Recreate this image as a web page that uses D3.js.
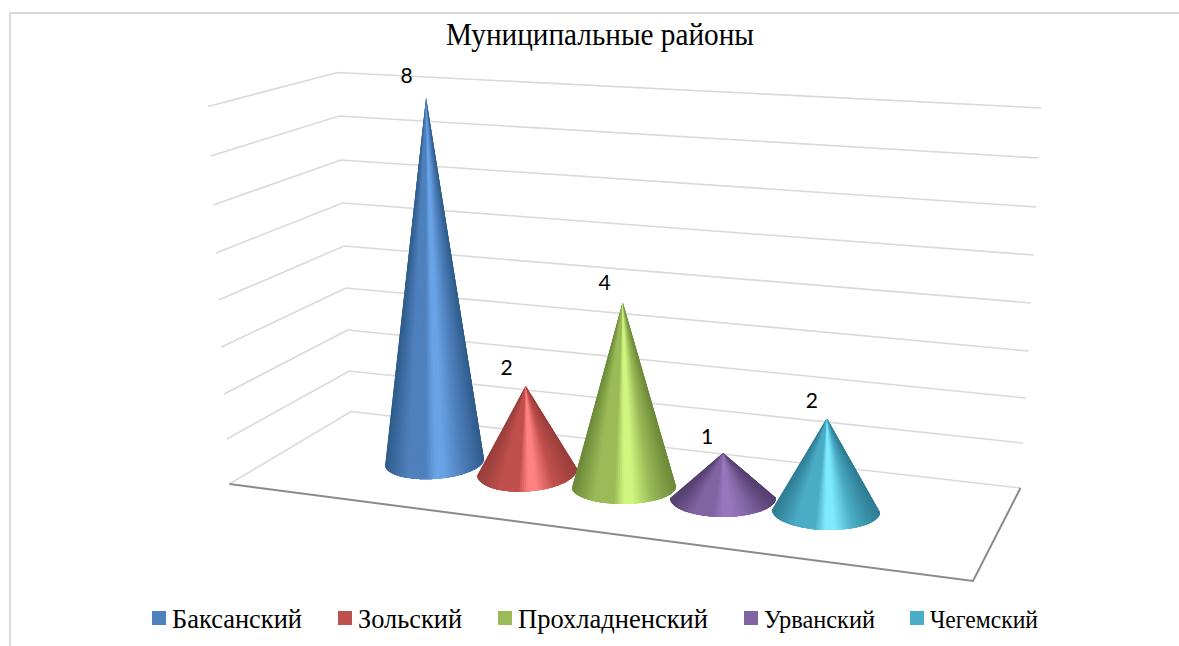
<!DOCTYPE html>
<html lang="ru">
<head>
<meta charset="utf-8">
<script src="https://cdn.jsdelivr.net/npm/d3@7/dist/d3.min.js"></script>
<style>
html,body{margin:0;padding:0;background:#fff;overflow:hidden}
svg{display:block}
</style>
</head>
<body>
<div id="chart"></div>
<script>
const titleText = "Муниципальные районы";
const categories = ["Баксанский", "Зольский", "Прохладненский", "Урванский", "Чегемский"];
const values = [8, 2, 4, 1, 2];
const baseColors = ["#4f81bd", "#c0504d", "#9bbb59", "#8064a2", "#4bacc6"];
const lightColors = ["#69a3e6", "#ff8282", "#cff77f", "#9a76be", "#7eeaff"];
const darkColors = ["#2f5c8c", "#9a3f3c", "#6c8a38", "#55406f", "#2f7d94"];
const gridLevels = [0, 1, 2, 3, 4, 5, 6, 7, 8];

const W = 1179, H = 646;
const svg = d3.select("#chart").append("svg").attr("width", W).attr("height", H);

// chart frame
svg.append("path").attr("d", `M10,${H}V13H${W}`).attr("fill", "none").attr("stroke", "#d9d9d9").attr("stroke-width", 2);

// projected axes: three vertical edges of the 3D box
const leftX = d3.scaleLinear().domain([0, 8]).range([229.5, 208]);
const leftY = d3.scaleLinear().domain(gridLevels).range([484, 439, 394, 347, 300, 253, 205, 156, 106.5]);
const backX = d3.scaleLinear().domain([0, 8]).range([351, 337.5]);
const backY = d3.scaleLinear().domain(gridLevels).range([411.5, 371, 330, 288, 246, 203, 160, 116, 72.5]);
const rightX = d3.scaleLinear().domain([0, 8]).range([1020.5, 1041.5]);
const rightY = d3.scaleLinear().domain(gridLevels).range([488, 443, 398, 351, 303, 255, 207, 158, 108]);

svg.append("g").selectAll("path").data(gridLevels).join("path")
  .attr("d", v => d3.line()([[leftX(v), leftY(v)], [backX(v), backY(v)], [rightX(v), rightY(v)]]))
  .attr("fill", "none").attr("stroke", "#d9d9d9").attr("stroke-width", 1.6);

// floor front edges
const frontRight = [973, 581];
svg.append("path")
  .attr("d", d3.line()([[leftX(0), leftY(0)], frontRight, [rightX(0), rightY(0)]]))
  .attr("fill", "none").attr("stroke", "#8a8a8a").attr("stroke-width", 2);

// cones
const idx = categories.map((_, i) => i);
const cx = d3.scaleLinear().domain(idx).range([434.5, 527, 624, 723, 826]);
const cy = d3.scaleLinear().domain(idx).range([462, 472, 487, 498, 511]);
const rx = d3.scaleLinear().domain(idx).range([49.5, 50, 52, 53, 54]);
const ry = d3.scaleLinear().domain(idx).range([17, 19.5, 17, 19, 19]);
const tilt = d3.scaleLinear().domain(idx).range([-4, -4, -0.5, 0, 1.6]);
const height = d3.scaleLinear().domain([0, 8]).range([0, 364]);
const heightFix = [1, 0.945, 1.015, 0.99, 1.02];
const tipPos = i => {
  const h = height(values[i]) * heightFix[i];
  return [cx(i) + (cx(i) - 710) * h * 8.4e-5, cy(i) - h];
};

const cones = svg.append("g");
const SLICES = 70, OVERLAP = 3;
idx.forEach(i => {
  const a = rx(i), b = ry(i), t = tilt(i) * Math.PI / 180;
  const tip = tipPos(i);
  const shade = d3.scaleLinear()
    .domain([0, 0.22, 0.4, 0.5, 0.58, 0.76, 1])
    .range([darkColors[i], baseColors[i], baseColors[i], lightColors[i], lightColors[i], baseColors[i], darkColors[i]])
    .interpolate(d3.interpolateRgb);
  const rim = th => {
    const ex = a * Math.cos(th), ey = b * Math.sin(th);
    return [cx(i) + ex * Math.cos(t) - ey * Math.sin(t), cy(i) + ex * Math.sin(t) + ey * Math.cos(t)];
  };
  const angle = k => Math.PI * (1 - k / SLICES);
  const g = cones.append("g");
  // painted left to right, each slice overlapping the next so no seam shows
  g.selectAll("path").data(d3.range(SLICES)).join("path")
    .attr("d", k => {
      const pts = d3.range(k, Math.min(k + OVERLAP + 1, SLICES) + 1).map(j => rim(angle(j)));
      return d3.line()([tip, ...pts]) + "Z";
    })
    .attr("fill", k => shade((1 + Math.cos(angle(k + 0.5))) / 2));
});

// value labels: sit up-left of each cone tip
const labels = svg.append("g").attr("font-family", "Lato,'Noto Sans',sans-serif")
  .attr("font-size", 21).attr("fill", "#000").attr("text-anchor", "middle");
const labelDx = [-19.5, -19, -18, -16, -15];
const labelDy = [15, 11, 12, 9, 10];
idx.forEach(i => {
  const [tx, ty] = tipPos(i);
  labels.append("text").attr("x", tx + labelDx[i]).attr("y", ty - labelDy[i]).text(values[i]);
});

// title
svg.append("text").attr("x", 446).attr("y", 45)
  .attr("font-family", "'Liberation Serif',serif").attr("font-size", 31).attr("fill", "#000")
  .attr("textLength", 308).attr("lengthAdjust", "spacingAndGlyphs").text(titleText);

// legend
const legendX = [152, 338, 498, 744, 910];
const legendW = [130, 104, 190, 111, 108];
const legendFont = [28, 28, 28, 26, 26];
const legend = svg.append("g").selectAll("g").data(categories).join("g")
  .attr("transform", (d, i) => `translate(${legendX[i]},611)`);
legend.append("rect").attr("width", 14).attr("height", 14).attr("fill", (d, i) => baseColors[i]);
legend.append("text").attr("x", 20).attr("y", 17)
  .attr("font-family", "'Liberation Serif',serif").attr("font-size", (d, i) => legendFont[i]).attr("fill", "#000")
  .attr("textLength", (d, i) => legendW[i]).attr("lengthAdjust", "spacingAndGlyphs")
  .text(d => d);
</script>
</body>
</html>
